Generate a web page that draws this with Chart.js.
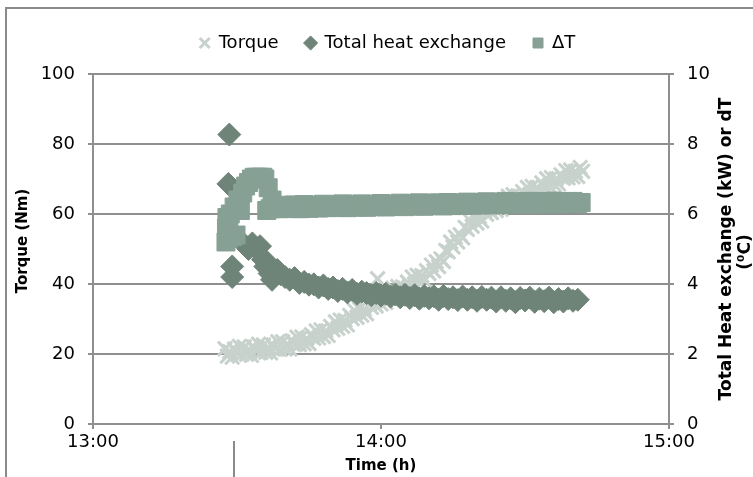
<!DOCTYPE html>
<html>
<head>
<meta charset="utf-8">
<script src="https://cdn.jsdelivr.net/npm/chart.js@4"></script>
<style>
  html, body { margin: 0; padding: 0; background: #fff; }
  body { width: 753px; height: 477px; position: relative; overflow: hidden; }
  #frame { position: absolute; left: 5px; top: 7px; width: 800px; height: 500px;
           border-left: 2px solid #8a8a8a; border-top: 2px solid #8a8a8a; }
  #cut { position: absolute; left: 233px; top: 441px; height: 40px; border-left: 2px solid #8a8a8a; }
  #wrap { position: absolute; left: 0; top: 0; width: 753px; height: 477px; }
</style>
</head>
<body>
<div id="frame"></div>
<div id="cut"></div>
<div id="wrap"><canvas id="chart"></canvas></div>
<script>
// time is in minutes after 13:00, logged every half minute for torque
const torqueTime = [
  27.5,28,28.5,29,29.5,30,30.5,31,31.5,32,32.5,33,33.5,34,34.5,35,35.5,36,36.5,37,37.5,38,38.5,39,39.5,40,40.5,41,41.5,42,42.5,43,43.5,44,44.5,45,45.5,46,46.5,47,47.5,48,48.5,49,49.5,50,
  50.5,51,51.5,52,52.5,53,53.5,54,54.5,55,55.5,56,56.5,57,57.5,58,58.5,59,59.5,60,60.5,61,61.5,62,62.5,63,63.5,64,64.5,65,65.5,66,66.5,67,67.5,68,68.5,69,69.5,70,
  70.5,71,71.5,72,72.5,73,73.5,74,74.5,75,75.5,76,76.5,77,77.5,78,78.5,79,79.5,80,80.5,81,81.5,82,82.5,83,83.5,84,84.5,85,85.5,86,86.5,87,87.5,88,88.5,89,89.5,90,
  90.5,91,91.5,92,92.5,93,93.5,94,94.5,95,95.5,96,96.5,97,97.5,98,98.5,99,99.5,100,100.5,101,101.5,102,59.3
];
const torque = [
  21.5,19.4,20.7,19.1,21.4,20.2,22.2,19.9,22.0,19.9,21.2,19.6,22.0,20.8,22.8,20.5,22.6,20.5,21.9,20.3,22.6,21.4,23.5,21.3,23.5,21.4,22.9,21.4,23.8,22.7,24.8,22.7,24.9,22.9,24.4,23.0,25.5,24.5,26.6,24.6,26.9,25.0,26.6,25.3,27.9,26.9,
  29.2,27.3,29.7,27.9,29.6,28.3,31.0,30.1,32.4,30.5,32.9,31.1,32.8,31.5,34.2,33.3,35.6,33.7,36.1,34.3,36.0,34.7,37.4,36.5,38.8,36.9,39.3,37.5,39.2,37.9,40.6,39.7,42.0,40.1,42.5,40.7,42.4,41.1,43.8,43.0,
  45.4,43.7,46.4,45.0,47.2,46.4,49.6,49.2,52.0,50.6,53.4,52.0,54.1,53.2,56.2,55.6,58.2,56.5,59.1,57.4,59.2,58.0,60.7,59.9,62.2,60.4,62.8,61.0,62.6,61.3,63.9,62.9,65.1,63.2,65.5,63.6,65.2,63.8,66.4,65.4,
  67.6,65.6,67.9,66.0,67.6,66.2,68.9,67.9,70.1,68.1,70.4,68.5,70.1,68.6,71.2,70.2,72.4,70.3,72.6,70.6,72.2,70.7,73.3,72.2,41.5
];

const heatTime = [28.4,28.2,29.0,29.0,31.6,32.4,33.2,34.0,34.8,35.4,35.9,36.3,36.8,37.3,37.8,38.4,39.1,40,41,42,43,44,45,46,47,48,49,50,51,52,53,54,55,56,57,58,59,60,61,62,63,64,65,66,67,68,69,70,71,72,73,74,75,76,77,78,79,80,81,82,83,84,85,86,87,88,89,90,91,92,93,94,95,96,97,98,99,100,101];
const heat = [8.27,6.86,4.50,4.20,5.12,5.00,5.16,5.00,5.08,4.70,4.50,4.62,4.30,4.12,4.35,4.40,4.28,4.20,4.12,4.17,4.03,4.06,3.98,3.99,3.90,3.96,3.86,3.90,3.80,3.86,3.76,3.83,3.72,3.78,3.74,3.68,3.74,3.67,3.72,3.64,3.70,3.62,3.69,3.60,3.68,3.58,3.66,3.59,3.65,3.55,3.66,3.57,3.62,3.54,3.64,3.55,3.62,3.52,3.63,3.55,3.61,3.50,3.62,3.52,3.59,3.48,3.60,3.53,3.61,3.49,3.58,3.51,3.61,3.48,3.57,3.50,3.59,3.52,3.55];

const deltaTTime = [27.7,27.8,27.9,28.1,28.3,28.6,29.0,29.4,29.8,30.2,30.7,31.2,31.8,32.4,33.0,33.6,34.2,34.8,35.4,35.8,36.2,36.5,36.9,37.3,37.8,38.4,39.0,40,41,42,43,44,45,46,47,48,49,50,51,52,53,54,55,56,57,58,59,60,61,62,63,64,65,66,67,68,69,70,71,72,73,74,75,76,77,78,79,80,81,82,83,84,85,86,87,88,89,90,91,92,93,94,95,96,97,98,99,100,101,101.7];
const deltaT = [5.2,5.6,5.9,5.3,5.7,6.0,5.35,6.2,5.4,6.4,6.1,6.6,6.8,6.9,7.0,7.05,7.05,7.05,7.05,7.0,6.1,6.75,6.15,6.4,6.2,6.25,6.15,6.2,6.16,6.26,6.15,6.27,6.16,6.24,6.17,6.28,6.18,6.25,6.19,6.29,6.18,6.26,6.2,6.29,6.19,6.27,6.21,6.3,6.2,6.28,6.22,6.31,6.21,6.29,6.23,6.32,6.22,6.3,6.24,6.32,6.23,6.33,6.24,6.31,6.25,6.34,6.25,6.32,6.26,6.35,6.26,6.33,6.27,6.36,6.27,6.34,6.28,6.36,6.28,6.36,6.29,6.35,6.29,6.37,6.29,6.35,6.3,6.36,6.3,6.33];

const xTicks = [0, 60, 120];
const xTickLabels = ['13:00', '14:00', '15:00'];

const FONT = '"DejaVu Sans", Verdana, sans-serif';
const GRID = '#8f8f8f';
const C_TORQUE = '#c8d2cd';
const C_HEAT = '#6f8479';
const C_DT = '#87a095';

const toPoints = (xs, ys) => xs.map((x, i) => ({ x: x, y: ys[i] }));

// extra room between the legend and the plot
const legendGap = {
  id: 'legendGap',
  beforeInit(chart) {
    const fit = chart.legend.fit;
    chart.legend.fit = function () {
      fit.bind(chart.legend)();
      this.height += 12;
    };
  }
};

// both value axis titles read bottom-to-top
const sideTitles = {
  id: 'sideTitles',
  afterDraw(chart) {
    const { ctx, chartArea } = chart;
    const mid = (chartArea.top + chartArea.bottom) / 2;
    const up = (text, x, y) => {
      ctx.save();
      ctx.translate(x, y);
      ctx.rotate(-Math.PI / 2);
      ctx.fillText(text, 0, 0);
      ctx.restore();
    };
    ctx.save();
    ctx.fillStyle = '#000';
    ctx.textAlign = 'center';
    ctx.textBaseline = 'middle';
    ctx.font = 'bold 15px ' + FONT;
    up('Torque (Nm)', 23, mid - 8);
    ctx.font = 'bold 17px ' + FONT;
    up('Total Heat exchange (kW) or dT', 727, mid);
    up('(⁰C)', 746, mid + 3);
    ctx.restore();
  }
};

new Chart(document.getElementById('chart'), {
  type: 'scatter',
  data: {
    datasets: [
      {
        label: 'Torque',
        data: toPoints(torqueTime, torque),
        yAxisID: 'y',
        pointStyle: 'crossRot',
        pointRadius: 10,
        pointBorderWidth: 3,
        borderWidth: 2,
        borderColor: C_TORQUE,
        backgroundColor: C_TORQUE,
        order: 3
      },
      {
        label: 'Total heat exchange',
        data: toPoints(heatTime, heat),
        yAxisID: 'y1',
        pointStyle: 'rectRot',
        pointRadius: 11.5,
        pointBorderWidth: 1,
        borderWidth: 1,
        borderColor: C_HEAT,
        backgroundColor: C_HEAT,
        order: 2
      },
      {
        label: 'ΔT',
        data: toPoints(deltaTTime, deltaT),
        yAxisID: 'y1',
        pointStyle: 'rect',
        pointRadius: 12.7,
        pointBorderWidth: 1,
        borderWidth: 1,
        borderColor: C_DT,
        backgroundColor: C_DT,
        order: 1
      }
    ]
  },
  options: {
    responsive: true,
    maintainAspectRatio: false,
    animation: false,
    layout: { padding: { top: 7, left: 22, right: 0, bottom: 0 } },
    plugins: {
      tooltip: { enabled: false },
      legend: {
        position: 'top',
        labels: {
          usePointStyle: true,
          boxWidth: 10,
          boxHeight: 10,
          padding: 27,
          color: '#000',
          font: { family: FONT, size: 18 },
          sort: (a, b) => a.datasetIndex - b.datasetIndex
        }
      }
    },
    scales: {
      x: {
        type: 'linear',
        min: 0,
        max: 120,
        afterFit: s => { s.height = 53; },
        afterBuildTicks: s => { s.ticks = xTicks.map(v => ({ value: v })); },
        ticks: {
          color: '#000',
          font: { family: FONT, size: 18 },
          padding: 3,
          maxRotation: 0,
          callback: v => xTickLabels[xTicks.indexOf(v)]
        },
        grid: { drawOnChartArea: false, tickLength: 5, color: GRID, lineWidth: 2 },
        border: { color: GRID, width: 2 },
        title: {
          display: true,
          text: 'Time (h)',
          color: '#000',
          font: { family: FONT, size: 15, weight: 'bold' },
          padding: { top: 0, bottom: 2 }
        }
      },
      y: {
        position: 'left',
        min: 0,
        max: 100,
        afterFit: s => { s.width = 71; },
        ticks: { stepSize: 20, padding: 13, color: '#000', font: { family: FONT, size: 18 } },
        grid: { tickLength: 5, color: GRID, lineWidth: 2 },
        border: { color: GRID, width: 2 }
      },
      y1: {
        position: 'right',
        min: 0,
        max: 10,
        afterFit: s => { s.width = 84; },
        ticks: { stepSize: 2, padding: 13, color: '#000', font: { family: FONT, size: 18 } },
        grid: { drawOnChartArea: false, tickLength: 5, color: GRID, lineWidth: 2 },
        border: { color: GRID, width: 2 }
      }
    }
  },
  plugins: [legendGap, sideTitles]
});
</script>
</body>
</html>
